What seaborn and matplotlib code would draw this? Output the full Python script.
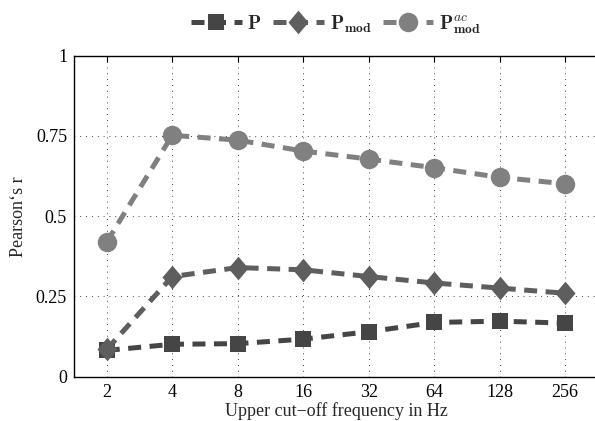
import numpy as np
import pandas as pd
import matplotlib
matplotlib.use("Agg")
import matplotlib.pyplot as plt
import seaborn as sns

# values
freqs = [2, 4, 8, 16, 32, 64, 128, 256]
r_p = [0.082, 0.101, 0.103, 0.117, 0.140, 0.169, 0.173, 0.167]
r_pmod = [0.085, 0.312, 0.340, 0.333, 0.312, 0.292, 0.276, 0.260]
r_pmod_ac = [0.420, 0.752, 0.737, 0.703, 0.678, 0.651, 0.621, 0.601]
labels = [r"$\mathbf{P}$", r"$\mathbf{P}_{\mathbf{mod}}$", r"$\mathbf{P}_{\mathbf{mod}}^{ac}$"]

sns.set_theme(style="white")
plt.rcParams["font.family"] = ["Liberation Serif", "DejaVu Serif"]
plt.rcParams["mathtext.fontset"] = "cm"

fig = plt.figure(figsize=(5.95, 4.21), dpi=100)
# axes runs past the right edge (the reference is cropped there)
ax = fig.add_axes([74 / 595, 1 - 376.7 / 421, (598 - 74) / 595, 321 / 421])

diamond = [(0, 1), (0.85, 0), (0, -1), (-0.85, 0), (0, 1)]
series = [
    (r_p, "#454545", "s", 12),
    (r_pmod, "#5e5e5e", diamond, 17),
    (r_pmod_ac, "#808080", "o", 14),
]
for (vals, col, mk, ms), lab in zip(series, labels):
    df = pd.DataFrame({"f": freqs, "r": vals})
    sns.lineplot(data=df, x="f", y="r", ax=ax, color=col, marker=mk, markersize=ms,
                 markeredgewidth=0, linewidth=3.6, linestyle=(0, (2.6, 1.7)),
                 label=lab, zorder=3)

ax.set_xscale("log", base=2)
ax.set_xlim(2 ** 0.5, 2 ** 8.5)
ax.set_xticks(freqs)
ax.set_xticklabels([str(f) for f in freqs])
ax.minorticks_off()
ax.set_ylim(0, 1)
ax.set_yticks([0, 0.25, 0.5, 0.75, 1])
ax.set_yticklabels(["0", "0.25", "0.5", "0.75", "1"])
ax.grid(True, color="black", linestyle=(0, (1, 6)), linewidth=0.6)
for s in ax.spines.values():
    s.set_color("black")
    s.set_linewidth(1.0)
ax.tick_params(direction="in", length=4, width=0.8, top=True, right=False,
               labelsize=13, colors="black", pad=5)
ax.set_xlabel("Upper cut\u2212off frequency in Hz", fontsize=13, labelpad=1)
ax.set_ylabel("Pearson\u2018s r", fontsize=13, labelpad=6)

ax.legend(loc="lower center", bbox_to_anchor=(0.5, 1.0), ncol=3, frameon=False,
          fontsize=14, handlelength=2.6, columnspacing=0.6, handletextpad=0.3,
          borderaxespad=0.6)

fig.savefig("out.png", dpi=100)
